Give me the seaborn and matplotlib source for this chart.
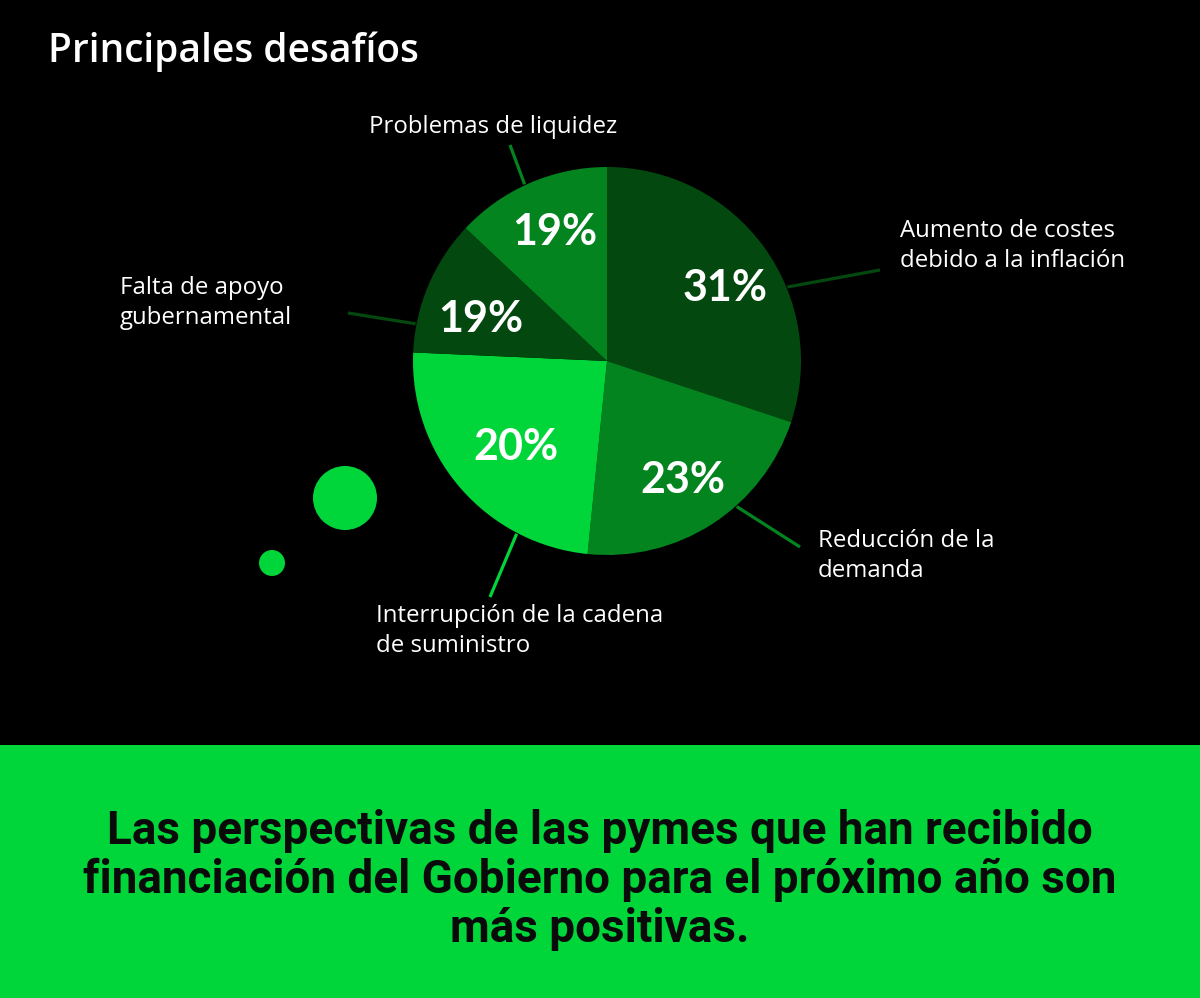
import numpy as np
import matplotlib
matplotlib.use("Agg")
import matplotlib.pyplot as plt
import seaborn as sns
from matplotlib.patches import Rectangle, Circle

# ---- data ----
categories = ["Aumento de costes\ndebido a la inflación",
              "Reducción de la\ndemanda",
              "Interrupción de la cadena\nde suministro",
              "Falta de apoyo\ngubernamental",
              "Problemas de liquidez"]
pct_labels = ["31%", "23%", "20%", "19%", "19%"]
# slice shares as drawn in the picture (angles)
slice_shares = [30.1, 21.5, 24.1, 11.3, 13.0]

title = "Principales desafíos"
footer = ("Las perspectivas de las pymes que han recibido\n"
          "financiación del Gobierno para el próximo año son\n"
          "más positivas.")

# ---- style ----
sns.set_theme(style="dark")
plt.rcParams['font.family'] = ['Open Sans', 'DejaVu Sans']

DARK = "#03490f"
MID = "#03841f"
BRIGHT = "#00d639"
colors = [DARK, MID, BRIGHT, DARK, MID]

W, H = 1200, 998
fig = plt.figure(figsize=(W / 100, H / 100), dpi=100, facecolor="black")
ax = fig.add_axes([0, 0, 1, 1])
ax.set_facecolor("black")

def Y(py):
    return H - py

cx, cy, R = 607, Y(361), 194

wedges, _ = ax.pie(slice_shares, colors=colors, startangle=90, counterclock=False,
                   center=(cx, cy), radius=R, frame=True,
                   wedgeprops=dict(linewidth=0))
ax.set_xlim(0, W)
ax.set_ylim(0, H)
ax.set_aspect("equal")
ax.axis("off")

# percentage labels inside slices (layout positions)
pct_pos = [(725, 288), (683, 480), (516, 447), (481, 319), (555, 232)]
for (px, py), t in zip(pct_pos, pct_labels):
    ax.text(px, Y(py), t, color="white", fontsize=31, fontweight="bold",
            ha="center", va="center", family=['Lato', 'DejaVu Sans'])

# leader lines: start angle on the pie rim, end point in pixels
leaders = [(22.3, (880, 270)), (-48.3, (800, 547)), (-117.6, (490, 597)),
           (169.0, (348, 313)), (115.0, (510, 145))]
for (ang, (ex, ey)), col in zip(leaders, colors):
    a = np.deg2rad(ang)
    sx, sy = cx + (R + 1) * np.cos(a), cy + (R + 1) * np.sin(a)
    ax.plot([sx, ex], [sy, Y(ey)], color=col, lw=2.3, solid_capstyle="butt")

# category labels
label_pos = [(900, 246, "left"), (818, 556, "left"), (376, 631, "left"),
             (120, 303, "left"), (369, 127, "left")]
for (lx, ly, ha), t in zip(label_pos, categories):
    ax.text(lx, Y(ly), t, color="white", fontsize=17.3, ha=ha, va="center",
            linespacing=1.28)

# decorative bubbles
ax.add_patch(Circle((345, Y(498)), 32, color=BRIGHT, lw=0))
ax.add_patch(Circle((272, Y(563)), 13, color=BRIGHT, lw=0))

# title
ax.text(48, Y(52), title, color="white", fontsize=28, fontweight="semibold",
        ha="left", va="center")

# bottom band
ax.add_patch(Rectangle((0, 0), W, Y(745), color=BRIGHT, lw=0))
ax.text(600, Y(880), footer, color="#0a0a0a", fontsize=33, fontweight="bold",
        ha="center", va="center", linespacing=1.14,
        family=['Roboto', 'DejaVu Sans'])

fig.savefig("out.png", dpi=100, facecolor="black")
